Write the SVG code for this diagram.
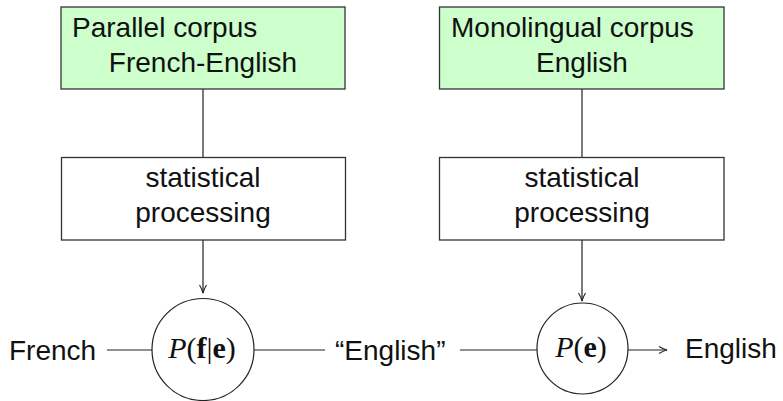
<svg xmlns="http://www.w3.org/2000/svg" width="783" height="401" viewBox="0 0 783 401">
  <style>
    .box { stroke: #333; stroke-width: 1.3; }
    .corpus { fill: #ccffcc; }
    .proc { fill: #ffffff; }
    .lbl { font-family: "Liberation Sans", Arial, sans-serif; font-size: 28px; fill: #111; }
    .math { font-family: "Liberation Serif", "Times New Roman", serif; font-size: 30px; fill: #111; }
    .node { fill: #fff; stroke: #222; stroke-width: 1.2; }
    .wire { fill: none; stroke: #222; stroke-width: 1.2; }
  </style>
  <defs>
    <!-- thin open arrowhead -->
    <marker id="arrow" viewBox="0 0 10 10" refX="9" refY="5" markerWidth="10" markerHeight="10" markerUnits="userSpaceOnUse" orient="auto">
      <path d="M1,1.5 Q5,4 9,5 Q5,6 1,8.5" fill="none" stroke="#222" stroke-width="1.1"/>
    </marker>
  </defs>
  <rect width="783" height="401" fill="#fff"/>

  <!-- connectors -->
  <g id="connectors">
    <line class="wire" x1="203" y1="89" x2="203" y2="157"/>
    <line class="wire" x1="582" y1="89" x2="582" y2="157"/>
    <line class="wire" x1="203" y1="240" x2="203" y2="293" marker-end="url(#arrow)"/>
    <line class="wire" x1="582" y1="240" x2="582" y2="301" marker-end="url(#arrow)"/>
    <line class="wire" x1="107" y1="350" x2="152" y2="350"/>
    <line class="wire" x1="254" y1="350" x2="325" y2="350"/>
    <line class="wire" x1="460" y1="350" x2="537" y2="350"/>
    <line class="wire" x1="628" y1="350" x2="667" y2="350" marker-end="url(#arrow)"/>
  </g>

  <!-- corpora -->
  <g id="parallel-corpus">
    <rect class="box corpus" x="61" y="7" width="284" height="82"/>
    <text class="lbl" x="72" y="37">Parallel corpus</text>
    <text class="lbl" x="203" y="72" text-anchor="middle">French-English</text>
  </g>
  <g id="monolingual-corpus">
    <rect class="box corpus" x="439.5" y="7" width="284.5" height="82"/>
    <text class="lbl" x="451" y="37">Monolingual corpus</text>
    <text class="lbl" x="582" y="72" text-anchor="middle">English</text>
  </g>

  <!-- processing steps -->
  <g id="processing-left">
    <rect class="box proc" x="61.5" y="157.5" width="284" height="82.5"/>
    <text class="lbl" x="203" y="187" text-anchor="middle">statistical</text>
    <text class="lbl" x="203" y="222" text-anchor="middle">processing</text>
  </g>
  <g id="processing-right">
    <rect class="box proc" x="439.5" y="157.5" width="284.5" height="82.5"/>
    <text class="lbl" x="582" y="187" text-anchor="middle">statistical</text>
    <text class="lbl" x="582" y="222" text-anchor="middle">processing</text>
  </g>

  <!-- models -->
  <g id="translation-model">
    <circle class="node" cx="203" cy="349.5" r="51"/>
    <text class="math" x="202" y="358" text-anchor="middle"><tspan font-style="italic">P</tspan>(<tspan font-weight="bold">f</tspan>|<tspan font-weight="bold">e</tspan>)</text>
  </g>
  <g id="language-model">
    <circle class="node" cx="582.5" cy="348.5" r="45.5"/>
    <text class="math" x="581" y="357" text-anchor="middle"><tspan font-style="italic">P</tspan>(<tspan font-weight="bold">e</tspan>)</text>
  </g>

  <!-- inputs and outputs -->
  <g id="input-french">
    <text class="lbl" x="9" y="360">French</text>
  </g>
  <g id="intermediate-english">
    <text class="lbl" x="335" y="360">“English”</text>
  </g>
  <g id="output-english">
    <text class="lbl" x="685" y="358">English</text>
  </g>
</svg>
